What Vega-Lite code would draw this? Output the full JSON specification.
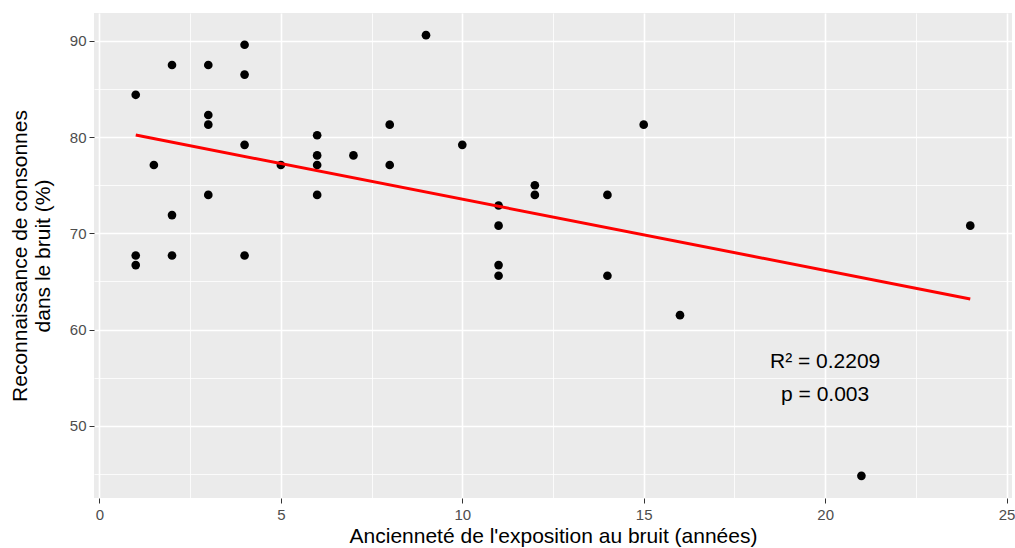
{
  "$schema": "https://vega.github.io/schema/vega-lite/v6.json",
  "autosize": "none",
  "width": 918,
  "height": 485,
  "padding": {"left": 94, "top": 13, "right": 3, "bottom": 50},
  "background": "white",
  "config": {
    "view": {"fill": "#ebebeb", "stroke": null},
    "font": "Liberation Sans",
    "axis": {
      "domain": false,
      "gridColor": "white",
      "tickColor": "#333333",
      "tickSize": 5,
      "labelColor": "#4d4d4d",
      "labelFontSize": 15,
      "labelFont": "Liberation Sans",
      "titleFont": "Liberation Sans",
      "titleFontSize": 21,
      "titleFontWeight": "normal",
      "titleColor": "black"
    }
  },
  "datasets": {
    "pts": [
      {"annees": 1, "score": 84.4},
      {"annees": 1, "score": 67.7},
      {"annees": 1, "score": 66.7},
      {"annees": 1.5, "score": 77.1},
      {"annees": 2, "score": 87.5},
      {"annees": 2, "score": 71.9},
      {"annees": 2, "score": 67.7},
      {"annees": 3, "score": 87.5},
      {"annees": 3, "score": 82.3},
      {"annees": 3, "score": 81.3},
      {"annees": 3, "score": 74.0},
      {"annees": 4, "score": 89.6},
      {"annees": 4, "score": 86.5},
      {"annees": 4, "score": 79.2},
      {"annees": 4, "score": 67.7},
      {"annees": 5, "score": 77.1},
      {"annees": 6, "score": 80.2},
      {"annees": 6, "score": 78.1},
      {"annees": 6, "score": 77.1},
      {"annees": 6, "score": 74.0},
      {"annees": 7, "score": 78.1},
      {"annees": 8, "score": 81.3},
      {"annees": 8, "score": 77.1},
      {"annees": 9, "score": 90.6},
      {"annees": 10, "score": 79.2},
      {"annees": 11, "score": 72.9},
      {"annees": 11, "score": 70.8},
      {"annees": 11, "score": 66.7},
      {"annees": 11, "score": 65.6},
      {"annees": 12, "score": 75.0},
      {"annees": 12, "score": 74.0},
      {"annees": 14, "score": 74.0},
      {"annees": 14, "score": 65.6},
      {"annees": 15, "score": 81.3},
      {"annees": 16, "score": 61.5},
      {"annees": 21, "score": 44.8},
      {"annees": 24, "score": 70.8}
    ],
    "labels": [
      {"annees": 20, "score": 56.6, "txt": "R² = 0.2209"},
      {"annees": 20, "score": 53.2, "txt": "p = 0.003"}
    ]
  },
  "encoding": {
    "x": {
      "field": "annees", "type": "quantitative",
      "scale": {"domain": [-0.15, 25.15], "nice": false, "zero": false},
      "axis": {
        "title": "Ancienneté de l'exposition au bruit (années)",
        "values": [0, 2.5, 5, 7.5, 10, 12.5, 15, 17.5, 20, 22.5, 25],
        "labelExpr": "datum.value % 5 === 0 ? datum.label : ''",
        "tickOpacity": {"expr": "datum.value % 5 === 0 ? 1 : 0"},
        "gridWidth": {"expr": "datum.value % 5 === 0 ? 1.6 : 0.8"},
        "labelPadding": 4,
        "titlePadding": 3
      }
    },
    "y": {
      "field": "score", "type": "quantitative",
      "scale": {"domain": [42.5, 92.9], "nice": false, "zero": false},
      "axis": {
        "title": ["Reconnaissance de consonnes", "dans le bruit (%)"],
        "values": [45, 50, 55, 60, 65, 70, 75, 80, 85, 90],
        "labelExpr": "datum.value % 10 === 0 ? datum.label : ''",
        "tickOpacity": {"expr": "datum.value % 10 === 0 ? 1 : 0"},
        "gridWidth": {"expr": "datum.value % 10 === 0 ? 1.6 : 0.8"},
        "labelPadding": 3,
        "titlePadding": 16
      }
    }
  },
  "layer": [
    {
      "data": {"name": "pts"},
      "mark": {"type": "point", "filled": true, "color": "black", "opacity": 1, "size": 75}
    },
    {
      "data": {"name": "pts"},
      "transform": [{"regression": "score", "on": "annees", "extent": [1, 24]}],
      "mark": {"type": "line", "color": "#ff0000", "strokeWidth": 3}
    },
    {
      "data": {"name": "labels"},
      "mark": {"type": "text", "fontSize": 21, "color": "black", "align": "center", "baseline": "middle"},
      "encoding": {"text": {"field": "txt"}}
    }
  ]
}
